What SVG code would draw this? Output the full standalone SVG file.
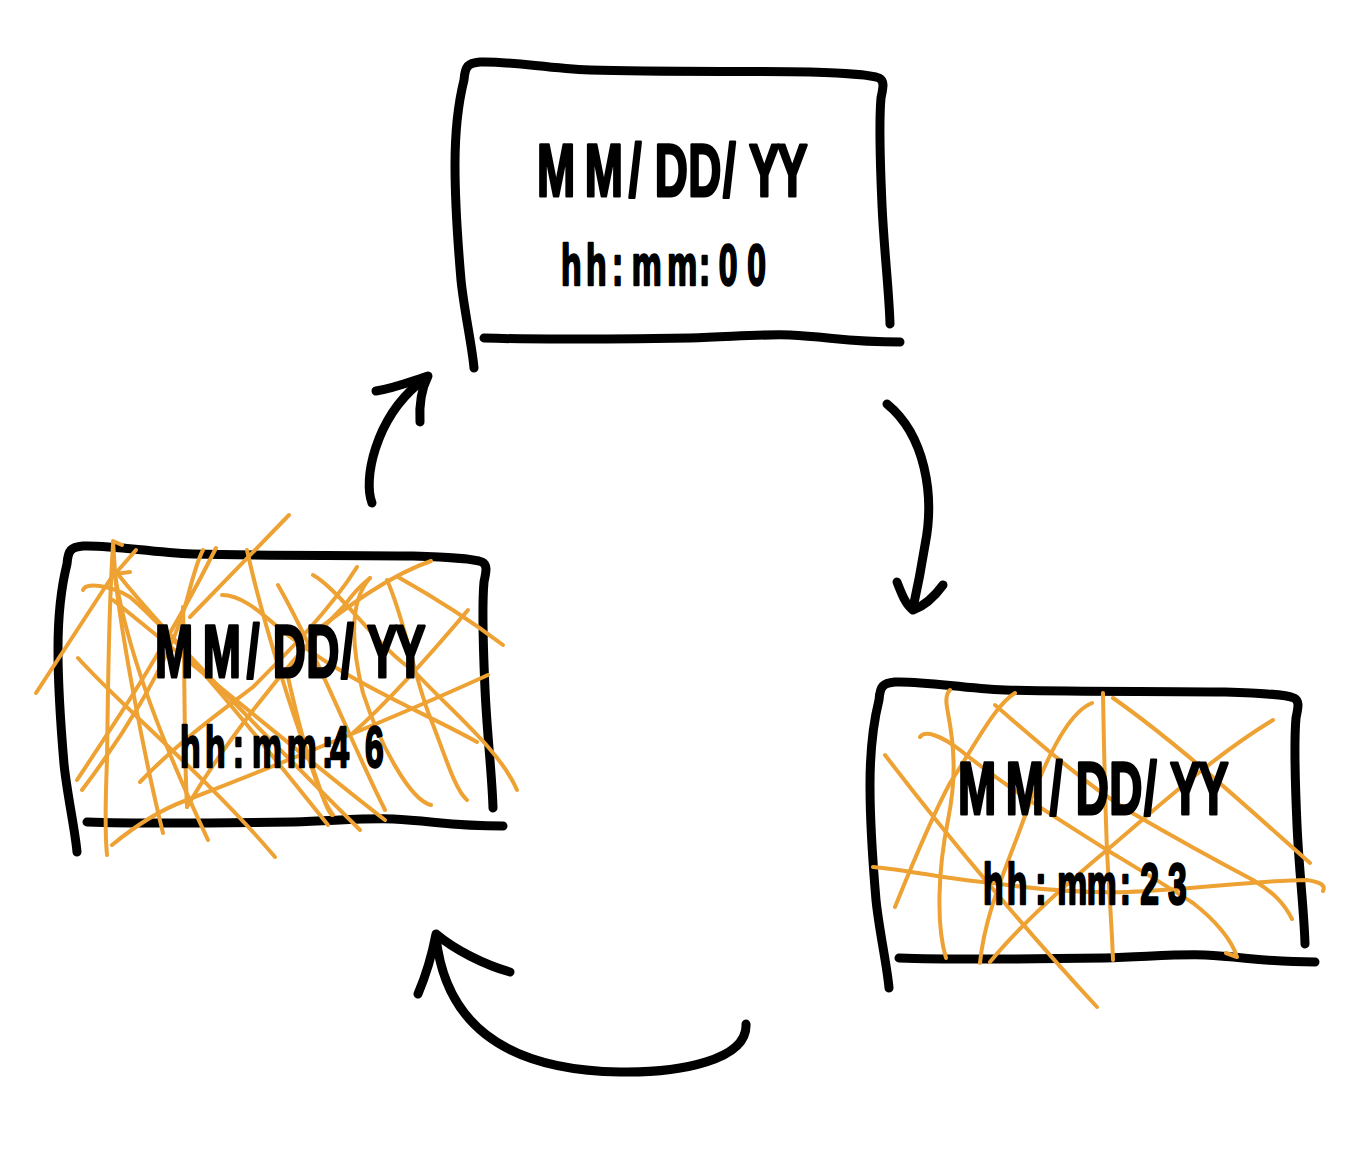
<svg xmlns="http://www.w3.org/2000/svg" xmlns:xlink="http://www.w3.org/1999/xlink" width="1371" height="1159" viewBox="0 0 1371 1159">
<style>
.ink{fill:none;stroke:#000;stroke-width:9;stroke-linecap:round;stroke-linejoin:round}
.scr path{fill:none;stroke:#EDA233;stroke-width:4;stroke-linecap:round;stroke-linejoin:round}
text{font-family:"Liberation Sans",Arial,sans-serif;font-weight:700;fill:#000;stroke:#000;stroke-linejoin:round}
.d{font-size:74px;stroke-width:3}
.t{font-size:58px;stroke-width:2.5}
</style>
<defs>
<g id="frame">
<path class="ink" d="M474 368C472 345 464 310 461 280C458 245 455 205 455 165C455 130 459 100 464 80C465 66 468 63 480 62C510 61 545 68 590 70C660 72 740 71 810 72C840 73 870 74 879 78C885 81 883 88 881 98C879 120 880 160 882 205C884 250 889 290 890 324"/>
<path class="ink" d="M484 338C540 340 620 339 690 338C730 337 760 334 790 335C830 337 850 342 900 342"/>
</g>
</defs>
<rect width="1371" height="1159" fill="#fff"/>
<g id="connectors">
<path class="ink" d="M372 503C363 480 375 420 418 384"/>
<path class="ink" d="M376 391C395 388 412 381 428 376C421 390 419 405 420 422"/>
<path class="ink" d="M887 404C925 435 935 495 925 545C921 570 917 590 913 608"/>
<path class="ink" d="M897 582C902 595 906 605 913 610C924 606 935 596 943 585"/>
<path class="ink" d="M746 1024C748 1060 680 1073 620 1072C500 1070 445 1020 436 937"/>
<path class="ink" d="M418 994C426 975 432 955 436 934C455 950 485 965 510 972"/>
</g>
<g id="node-00">
<use xlink:href="#frame"/>
<text class="d" transform="translate(537 196) scale(.62 1)" x="0 77 148 190 244 300 342 387">MM/DD/YY</text>
<text class="t" transform="translate(561 285) scale(.58 1)" x="0 43 88 103 122 183 238 258 272 321">hh: mm: 00</text>
</g>
<g id="node-46">
<use xlink:href="#frame" transform="translate(-397 484)"/>
<g class="scr">
<path d="M36 693L115 572L113 541L122 545"/>
<path d="M113 545C108 620 108 700 107 760C105 810 105 835 107 855"/>
<path d="M136 550L115 574L130 572"/>
<path d="M115 575C122 640 145 760 163 833"/>
<path d="M115 575C130 670 180 780 208 840"/>
<path d="M117 573C170 640 280 750 360 830"/>
<path d="M83 590C85 582 110 585 130 597C180 640 260 740 328 825"/>
<path d="M78 658C120 705 210 780 275 857"/>
<path d="M77 780C110 730 165 650 216 548"/>
<path d="M82 790C120 740 165 670 184 610C190 590 195 565 203 550"/>
<path d="M140 782C180 740 230 705 253 687C290 650 330 610 357 567"/>
<path d="M190 617L289 515"/>
<path d="M183 607C185 680 184 750 187 807"/>
<path d="M187 807C220 750 280 670 345 605C355 590 365 582 370 578"/>
<path d="M112 845C140 822 165 808 187 800C290 760 400 715 488 675"/>
<path d="M247 550C260 610 285 690 300 733C315 770 325 810 332 815"/>
<path d="M278 585C315 650 350 740 385 810"/>
<path d="M313 575C340 590 380 650 413 670C450 710 500 750 517 790"/>
<path d="M222 595C240 595 258 610 273 623C340 680 420 710 477 742"/>
<path d="M398 577C430 595 470 620 503 645"/>
<path d="M387 580C405 620 415 680 430 717C445 755 455 790 467 800"/>
<path d="M370 578C350 600 350 640 363 693C380 745 410 800 431 805"/>
<path d="M468 610C430 655 390 700 353 733"/>
<path d="M313 633C350 605 390 575 431 561"/>
<path d="M113 600C200 670 320 770 385 820"/>
<path d="M287 673C300 730 315 790 333 815"/>
</g>
<text class="d" transform="translate(155 677) scale(.62 1)" x="0 77 148 190 244 300 342 387">MM/DD/YY</text>
<text class="t" transform="translate(180 767) scale(.58 1)" x="0 43 91 103 124 184 245 255 259 319">hh: mm: 46</text>
</g>
<g id="node-23">
<use xlink:href="#frame" transform="translate(415 620)"/>
<g class="scr">
<path d="M950 690C945 695 946 703 948 713C955 750 956 780 948 820C938 870 936 925 946 958"/>
<path d="M1015 693C995 705 975 745 950 783C930 820 910 870 895 907"/>
<path d="M995 705C1030 735 1080 780 1127 810C1170 835 1215 860 1253 880C1275 893 1285 905 1292 919"/>
<path d="M1092 703C1075 710 1055 735 1027 810C1010 860 985 910 980 963"/>
<path d="M1103 693C1104 750 1105 800 1107 850C1109 890 1112 930 1113 960"/>
<path d="M1113 698C1180 745 1250 810 1310 863"/>
<path d="M1273 720C1215 755 1160 805 1107 850C1065 885 1020 925 990 962"/>
<path d="M885 755C950 840 1030 935 1097 1007"/>
<path d="M920 737C925 730 940 735 960 750C1010 790 1060 820 1107 850C1140 870 1170 888 1193 903C1215 920 1232 940 1237 957L1226 953"/>
<path d="M873 867C910 870 950 880 993 883C1040 890 1085 893 1127 892C1190 890 1260 880 1307 880C1320 882 1326 885 1323 891"/>
</g>
<text class="d" transform="translate(958 814) scale(.62 1)" x="0 77 148 190 244 300 342 387">MM/DD/YY</text>
<text class="t" transform="translate(983 904) scale(.58 1)" x="0 41 90 103 128 179 236 250 271 319">hh: mm: 23</text>
</g>
</svg>
